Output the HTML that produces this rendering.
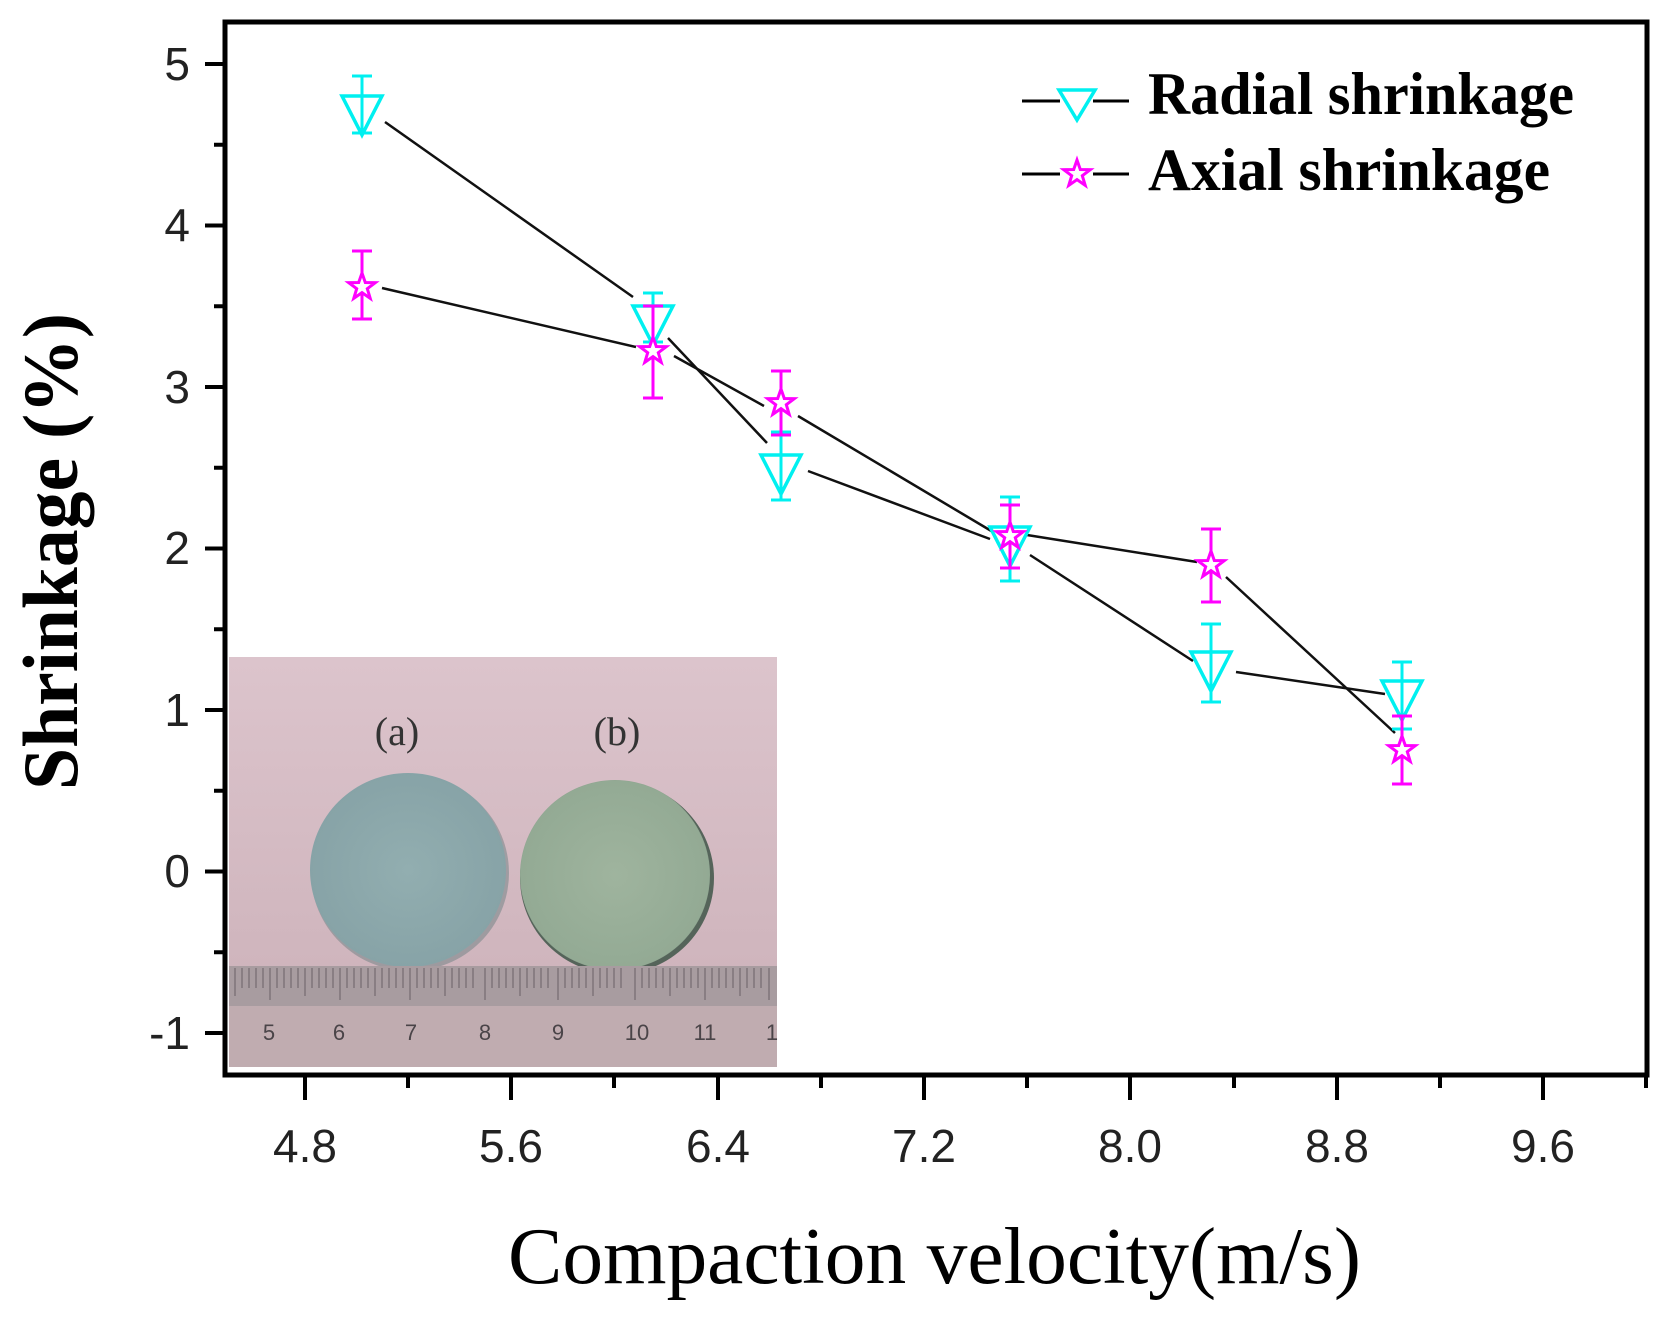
<!DOCTYPE html>
<html><head><meta charset="utf-8"><style>html,body{margin:0;padding:0;background:#fff}svg{display:block}</style></head>
<body>
<svg width="1672" height="1321" viewBox="0 0 1672 1321" xmlns="http://www.w3.org/2000/svg">
<defs>
<radialGradient id="ga" cx="0.5" cy="0.5" r="0.55"><stop offset="0" stop-color="#92aeb0"/><stop offset="1" stop-color="#86a2a6"/></radialGradient>
<radialGradient id="gb" cx="0.5" cy="0.5" r="0.55"><stop offset="0" stop-color="#9fb49e"/><stop offset="0.9" stop-color="#93aa94"/><stop offset="1" stop-color="#5e6e60"/></radialGradient>
<linearGradient id="bg" x1="0" y1="0" x2="0" y2="1"><stop offset="0" stop-color="#dcc4cc"/><stop offset="1" stop-color="#cbb0b8"/></linearGradient>
<path id="star" d="M0 -14L3.3 -4.5L13.3 -4.3L5.3 1.7L8.2 11.3L0 5.6L-8.2 11.3L-5.3 1.7L-13.3 -4.3L-3.3 -4.5Z"/>
<path id="tri" d="M-20 -13H20L0 26Z"/>
</defs>
<rect x="229" y="657" width="548" height="410" fill="url(#bg)"/>
<ellipse cx="410" cy="873" rx="99" ry="98" fill="#6c7f82" opacity="0.5"/>
<ellipse cx="408" cy="870" rx="98" ry="97" fill="url(#ga)"/>
<ellipse cx="617" cy="878" rx="97" ry="96" fill="#55645a"/>
<ellipse cx="615" cy="875" rx="95" ry="95" fill="url(#gb)"/>
<rect x="229" y="966" width="548" height="101" fill="#c0acb0"/>
<rect x="229" y="966" width="548" height="40" fill="#a89ca0"/>
<g stroke="#6a6066" stroke-width="1">
<path d="M235 968v28M242 968v20M249 968v20M256 968v20M263 968v20M270 968v32M277 968v20M284 968v20M291 968v20M298 968v20M305 968v28M312 968v20M319 968v20M326 968v20M333 968v20M340 968v32M347 968v20M354 968v20M361 968v20M368 968v20M375 968v28M382 968v20M389 968v20M396 968v20M403 968v20M410 968v32M417 968v20M424 968v20M431 968v20M438 968v20M445 968v28M452 968v20M459 968v20M466 968v20M473 968v20M485 968v32M492 968v20M499 968v20M506 968v20M513 968v20M520 968v28M527 968v20M534 968v20M541 968v20M548 968v20M558 968v32M565 968v20M572 968v20M579 968v20M586 968v20M593 968v28M600 968v20M607 968v20M614 968v20M621 968v20M635 968v32M642 968v20M649 968v20M656 968v20M663 968v20M670 968v28M677 968v20M684 968v20M691 968v20M698 968v20M705 968v32M712 968v20M719 968v20M726 968v20M733 968v20M740 968v28M747 968v20M754 968v20M761 968v20M769 968v32"/>
</g>
<g font-family="Liberation Sans, sans-serif" font-size="22" fill="#4a4448" text-anchor="middle">
<text x="269" y="1040">5</text><text x="339" y="1040">6</text><text x="411" y="1040">7</text><text x="485" y="1040">8</text><text x="558" y="1040">9</text><text x="637" y="1040">10</text><text x="705" y="1040">11</text><text x="772" y="1040">1</text>
</g>
<g font-family="Liberation Serif, serif" font-size="40" fill="#333" text-anchor="middle">
<text x="397" y="745">(a)</text><text x="617" y="745">(b)</text>
</g>
<rect x="225" y="22" width="1422" height="1053" fill="none" stroke="#000" stroke-width="5"/>
<g stroke="#000" stroke-width="4">
<path d="M205 64h20M205 225.5h20M205 387h20M205 548.5h20M205 710h20M205 871.5h20M205 1033h20"/>
<path d="M214 144.75h11M214 306.25h11M214 467.75h11M214 629.25h11M214 790.75h11M214 952.25h11"/>
<path d="M305 1075v25M511 1075v25M718 1075v25M924 1075v25M1130 1075v25M1337 1075v25M1543 1075v25"/>
<path d="M408 1075v13M614 1075v13M821 1075v13M1027 1075v13M1234 1075v13M1440 1075v13M1646 1075v13"/>
</g>
<g font-family="Liberation Sans, sans-serif" font-size="46" fill="#222" text-anchor="end">
<text x="190" y="80">5</text><text x="190" y="241">4</text><text x="190" y="403">3</text><text x="190" y="564">2</text><text x="190" y="726">1</text><text x="190" y="887">0</text><text x="190" y="1049">-1</text>
</g>
<g font-family="Liberation Sans, sans-serif" font-size="46" fill="#222" text-anchor="middle">
<text x="305" y="1162">4.8</text><text x="511" y="1162">5.6</text><text x="718" y="1162">6.4</text><text x="924" y="1162">7.2</text><text x="1130" y="1162">8.0</text><text x="1337" y="1162">8.8</text><text x="1543" y="1162">9.6</text>
</g>
<text x="508" y="1283" font-family="Liberation Serif, serif" font-size="80" textLength="853" lengthAdjust="spacingAndGlyphs" fill="#000">Compaction velocity(m/s)</text>
<text transform="translate(77,790) rotate(-90)" font-family="Liberation Serif, serif" font-weight="bold" font-size="78" textLength="477" lengthAdjust="spacingAndGlyphs" fill="#000">Shrinkage (%)</text>
<g stroke="#111" stroke-width="2.5" fill="none">
<path d="M385 122L633 297M668 338L767 443M808 471L990 539M1030 555L1193 661M1236 672L1385 694"/>
<path d="M382 288L636 347M674 356L764 406M798 416L993 532M1027 535L1197 562M1226 577L1395 733"/>
</g>
<g stroke="#00f0f0" stroke-width="3" fill="none">
<path d="M362 76V133M352 76h20M352 133h20"/>
<path d="M653 293V342M643 293h20M643 342h20"/>
<path d="M781 432V500M771 432h20M771 500h20"/>
<path d="M1010 497V581M1000 497h20M1000 581h20"/>
<path d="M1211 624V702M1201 624h20M1201 702h20"/>
<path d="M1402 662V729M1392 662h20M1392 729h20"/>
</g>
<g stroke="#00f0f0" stroke-width="3.5" fill="none">
<use href="#tri" x="362" y="109"/><use href="#tri" x="653" y="319"/><use href="#tri" x="781" y="468"/><use href="#tri" x="1010" y="540"/><use href="#tri" x="1211" y="665"/><use href="#tri" x="1402" y="694"/>
</g>
<g stroke="#ff00ff" stroke-width="3" fill="none">
<path d="M362 251V319M352 251h20M352 319h20"/>
<path d="M653 306V398M643 306h20M643 398h20"/>
<path d="M781 371V435M771 371h20M771 435h20"/>
<path d="M1010 505V568M1000 505h20M1000 568h20"/>
<path d="M1211 529V602M1201 529h20M1201 602h20"/>
<path d="M1402 716V784M1392 716h20M1392 784h20"/>
</g>
<g stroke="#ff00ff" stroke-width="3" fill="#fff">
<use href="#star" x="362" y="287"/><use href="#star" x="653" y="351"/><use href="#star" x="781" y="403"/><use href="#star" x="1010" y="536"/><use href="#star" x="1211" y="565"/><use href="#star" x="1402" y="750"/>
</g>
<g stroke="#000" stroke-width="3"><path d="M1022 101h38M1093 101h36M1022 174h38M1093 174h36"/></g>
<path d="M1059 90h36L1077 120z" stroke="#00f0f0" stroke-width="3.5" fill="none"/>
<use href="#star" x="1077" y="174" stroke="#ff00ff" stroke-width="3" fill="none"/>
<g font-family="Liberation Serif, serif" font-weight="bold" font-size="60" fill="#000">
<text x="1148" y="114" textLength="426" lengthAdjust="spacingAndGlyphs">Radial shrinkage</text>
<text x="1148" y="190" textLength="402" lengthAdjust="spacingAndGlyphs">Axial shrinkage</text>
</g>
</svg>
</body></html>
